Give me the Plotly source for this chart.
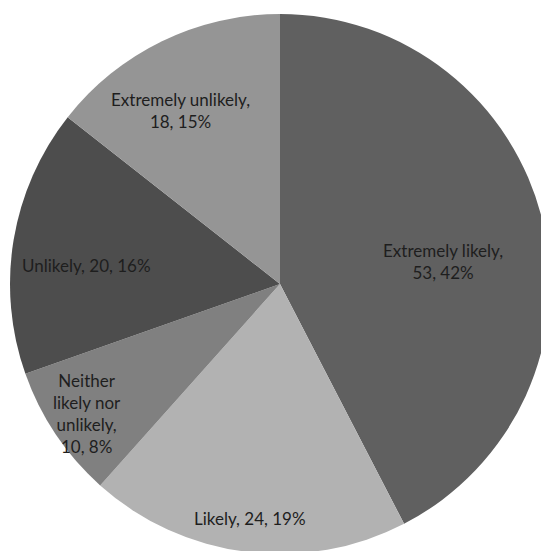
import math
import plotly.graph_objects as go

# Data
categories = ["Extremely likely", "Likely", "Neither likely nor unlikely", "Unlikely", "Extremely unlikely"]
counts = [53, 24, 10, 20, 18]
percents = [42, 19, 8, 16, 15]
label_lines = [
    ["Extremely likely,", "{v}, {p}%"],
    ["Likely, {v}, {p}%"],
    ["Neither", "likely nor", "unlikely,", "{v}, {p}%"],
    ["Unlikely, {v}, {p}%"],
    ["Extremely unlikely,", "{v}, {p}%"],
]

# Styles
colors = ["#606060", "#b2b2b2", "#808080", "#4d4d4d", "#959595"]
label_radius = [0.61, 0.875, 0.86, 0.72, 0.74]   # fraction of pie radius
label_nudge_deg = [6, 0, 0, -4, -4]               # angular nudge from slice middle

W, H = 560, 568
ML, MR, MT, MB = 10, 10, 14, 14

fig = go.Figure(go.Pie(
    labels=categories,
    values=counts,
    sort=False,
    direction="clockwise",
    rotation=0,
    marker=dict(colors=colors, line=dict(width=0)),
    textinfo="none",
    hoverinfo="label+value+percent",
    showlegend=False,
))

total = sum(counts)
cum = 0
annotations = []
for i, v in enumerate(counts):
    mid = (cum + v / 2) / total * 360 + label_nudge_deg[i]
    cum += v
    th = math.radians(mid)
    f = label_radius[i]
    x = 0.5 + 0.5 * f * math.sin(th)
    y = 0.5 + 0.5 * f * math.cos(th)
    txt = "<br>".join(s.format(v=v, p=percents[i]) for s in label_lines[i])
    annotations.append(dict(
        x=x, y=y, xref="paper", yref="paper", text=txt, showarrow=False,
        xanchor="center", yanchor="middle", align="center",
        font=dict(family="Lato, 'Open Sans', sans-serif", size=17, color="#1e1e1e"),
    ))

fig.update_layout(
    width=W, height=H,
    margin=dict(l=ML, r=MR, t=MT, b=MB, pad=0),
    paper_bgcolor="white",
    plot_bgcolor="white",
    annotations=annotations,
)

fig.write_html(
    "out.html",
    post_script="document.documentElement.style.overflow='hidden';document.body.style.overflow='hidden';document.body.style.margin='0';",
)
